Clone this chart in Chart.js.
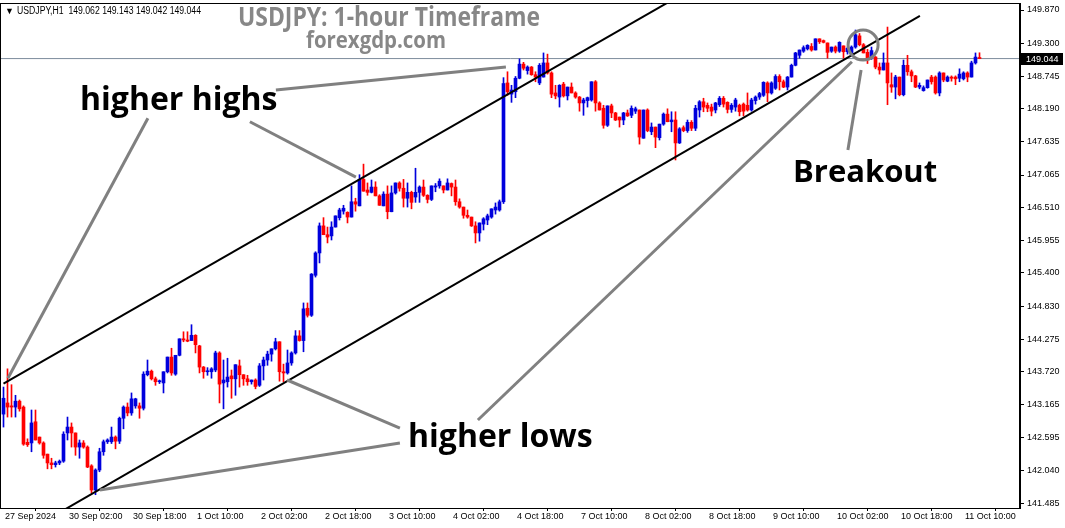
<!DOCTYPE html>
<html>
<head>
<meta charset="utf-8">
<title>USDJPY H1</title>
<script src="https://cdn.jsdelivr.net/npm/chart.js@4.4.0/dist/chart.umd.min.js"></script>
<style>
  html, body { margin: 0; padding: 0; background: #fff; overflow: hidden; }
  canvas { display: block; }
</style>
</head>
<body>
<canvas id="chart" width="1065" height="528"></canvas>
<script>
// ===================== DATA ===================== //
// hourly candles, 27 Sep 2024 10:00 -> 11 Oct 2024 14:00
const opens = [
  143.00,143.19,143.14,143.12,143.22,143.12,142.52,142.51,142.87,142.61,
  142.51,142.32,142.17,142.14,142.17,142.20,142.68,142.78,142.68,142.44,
  142.51,142.44,142.12,141.71,142.05,142.36,142.53,142.53,142.61,142.54,
  142.93,143.12,143.02,143.14,143.14,143.10,143.67,143.73,143.60,143.55,
  143.53,143.72,143.97,143.68,144.00,144.28,144.26,144.25,144.34,144.16,
  143.80,143.72,143.72,143.75,144.04,143.53,143.55,143.65,143.60,143.82,
  143.67,143.60,143.55,143.58,143.49,143.82,143.92,144.02,144.11,144.23,
  143.72,143.70,143.87,144.04,144.33,144.25,144.80,144.68,145.36,145.74,
  146.20,146.05,146.03,146.18,146.34,146.45,146.43,146.35,146.61,146.54,
  146.99,146.81,146.77,146.86,146.71,146.54,146.74,146.44,146.76,146.93,
  146.84,146.67,146.77,146.69,146.77,146.86,146.72,146.65,146.86,146.88,
  146.88,146.81,146.92,146.86,146.61,146.52,146.38,146.35,146.20,146.08,
  146.23,146.30,146.35,146.47,146.47,146.61,148.63,148.44,148.48,148.71,
  148.95,148.84,148.90,148.77,148.63,148.73,148.97,148.80,148.46,148.39,
  148.61,148.41,148.56,148.46,148.39,148.29,148.33,148.34,148.65,148.29,
  148.20,147.91,148.24,148.12,148.05,148.00,148.12,148.08,148.15,148.17,
  147.69,148.17,147.80,147.88,147.70,147.93,148.10,147.97,148.00,147.61,
  147.87,147.82,147.96,147.86,148.17,148.31,148.25,148.22,148.17,148.26,
  148.37,148.30,148.18,148.22,148.25,148.27,148.25,148.17,148.33,148.39,
  148.42,148.63,148.46,148.54,148.74,148.65,148.56,148.73,148.93,149.10,
  149.17,149.21,149.25,149.19,149.38,149.35,149.31,149.17,149.24,149.17,
  149.26,149.16,149.12,149.24,149.43,149.28,149.15,149.06,149.07,148.90,
  148.85,148.97,148.60,148.56,148.73,148.43,148.93,148.82,148.75,148.56,
  148.50,148.55,148.73,148.73,148.46,148.80,148.66,148.73,148.73,148.71,
  148.70,148.80,148.73,148.97,149.062
];
const highs = [
  143.46,143.77,143.50,143.32,143.24,143.14,142.58,143.07,143.07,142.61,
  142.53,142.32,142.25,142.20,142.22,142.70,142.95,142.85,142.68,142.56,
  142.55,142.46,142.14,142.07,142.42,142.56,142.58,142.78,142.63,142.95,
  143.14,143.19,143.36,143.27,143.19,143.72,143.92,143.75,143.63,143.58,
  143.72,143.97,144.12,144.00,144.28,144.40,144.40,144.52,144.35,144.17,
  143.81,143.79,143.79,144.07,144.06,143.92,143.95,143.75,143.84,143.92,
  143.67,143.66,143.58,143.60,143.86,143.97,144.07,144.11,144.29,144.23,
  143.85,144.09,144.06,144.42,144.42,144.89,144.89,145.39,145.76,146.25,
  146.34,146.18,146.27,146.37,146.50,146.55,146.44,146.88,146.67,147.07,
  147.25,146.93,146.98,146.95,146.73,146.78,146.88,146.88,146.93,146.95,
  146.99,146.93,146.79,147.18,146.88,146.98,146.73,146.88,146.92,147.00,
  146.88,147.00,146.93,146.98,146.66,146.52,146.47,146.35,146.27,146.25,
  146.34,146.40,146.49,146.59,146.64,148.72,148.82,148.59,148.74,149.04,
  148.98,148.92,148.91,148.82,148.96,149.14,149.12,148.82,148.59,148.60,
  148.64,148.56,148.63,148.48,148.40,148.37,148.39,148.65,148.67,148.31,
  148.25,148.24,148.27,148.13,148.05,148.13,148.17,148.24,148.22,148.17,
  148.17,148.19,147.95,147.88,147.93,148.12,148.19,148.14,148.14,147.87,
  147.90,148.00,147.99,148.25,148.33,148.37,148.29,148.27,148.30,148.40,
  148.40,148.31,148.28,148.37,148.27,148.29,148.46,148.37,148.41,148.47,
  148.65,148.65,148.65,148.77,148.77,148.68,148.74,148.95,149.15,149.19,
  149.26,149.28,149.30,149.38,149.38,149.36,149.31,149.24,149.26,149.33,
  149.26,149.24,149.26,149.53,149.47,149.30,149.20,149.24,149.08,148.97,
  149.14,149.58,148.80,148.76,148.73,149.02,149.10,148.85,148.76,148.63,
  148.58,148.68,148.76,148.75,148.82,148.80,148.75,148.75,148.75,148.87,
  148.82,148.82,149.00,149.14,149.143
];
const lows = [
  142.78,142.95,142.95,142.95,143.05,142.47,142.45,142.36,142.56,142.49,
  142.25,142.07,142.07,142.10,142.14,142.18,142.56,142.44,142.30,142.25,
  142.42,142.09,141.66,141.63,142.02,142.30,142.50,142.50,142.41,142.50,
  142.75,142.97,142.98,143.10,142.93,143.07,143.65,143.58,143.49,143.52,
  143.36,143.70,143.66,143.66,143.99,144.23,144.23,144.25,144.04,143.70,
  143.61,143.66,143.61,143.72,143.19,143.09,143.46,143.27,143.32,143.46,
  143.49,143.49,143.51,143.43,143.47,143.58,143.83,143.90,144.09,143.56,
  143.55,143.68,143.83,144.02,144.24,144.06,144.65,144.66,145.33,145.57,
  146.05,145.91,145.96,146.18,146.30,146.40,146.25,146.35,146.45,146.54,
  146.79,146.72,146.76,146.71,146.55,146.54,146.32,146.44,146.74,146.79,
  146.52,146.52,146.49,146.60,146.60,146.70,146.59,146.63,146.78,146.84,
  146.76,146.81,146.71,146.55,146.50,146.33,146.33,146.19,145.91,145.94,
  146.13,146.22,146.33,146.40,146.45,146.58,148.42,148.30,148.38,148.70,
  148.85,148.78,148.76,148.65,148.60,148.73,148.78,148.38,148.36,148.22,
  148.39,148.34,148.46,148.37,148.15,148.08,148.22,148.32,148.15,148.17,
  147.86,147.89,148.04,147.99,147.88,147.92,148.06,148.04,148.11,147.59,
  147.69,147.80,147.75,147.53,147.66,147.91,147.97,147.80,147.32,147.60,
  147.80,147.79,147.82,147.82,148.05,148.14,148.14,148.07,148.12,148.23,
  148.22,148.12,148.13,148.15,148.07,148.07,148.15,148.15,148.27,148.35,
  148.40,148.31,148.44,148.52,148.51,148.55,148.51,148.73,148.92,149.05,
  149.15,149.19,149.17,149.19,149.30,149.31,149.05,149.15,149.14,149.15,
  149.05,149.12,149.08,149.22,149.26,149.14,148.96,149.03,148.87,148.78,
  148.85,148.26,148.47,148.36,148.41,148.41,148.76,148.65,148.55,148.53,
  148.49,148.54,148.61,148.44,148.41,148.65,148.65,148.66,148.60,148.65,
  148.68,148.65,148.73,148.95,149.042
];
const closes = [
  143.27,143.12,143.12,143.22,143.09,142.49,142.48,142.85,142.56,142.51,
  142.30,142.17,142.14,142.17,142.20,142.66,142.78,142.68,142.44,142.51,
  142.44,142.10,141.71,142.05,142.36,142.53,142.56,142.61,142.54,142.93,
  143.12,143.02,143.26,143.26,143.10,143.68,143.73,143.60,143.55,143.56,
  143.72,143.97,143.70,144.00,144.28,144.26,144.24,144.34,144.18,143.80,
  143.72,143.73,143.77,144.04,143.51,143.58,143.63,143.60,143.84,143.67,
  143.60,143.55,143.58,143.47,143.82,143.92,144.02,144.11,144.23,143.72,
  143.70,143.87,144.04,144.33,144.25,144.79,144.68,145.38,145.74,146.20,
  146.05,146.01,146.18,146.37,146.47,146.50,146.35,146.61,146.57,146.99,
  146.79,146.77,146.86,146.71,146.55,146.74,146.44,146.76,146.93,146.84,
  146.67,146.77,146.60,146.77,146.86,146.72,146.65,146.88,146.88,146.96,
  146.81,146.93,146.86,146.61,146.52,146.38,146.35,146.20,146.08,146.25,
  146.32,146.37,146.49,146.52,146.61,148.62,148.48,148.51,148.71,148.95,
  148.88,148.90,148.77,148.73,148.93,148.97,148.80,148.44,148.41,148.59,
  148.41,148.56,148.46,148.39,148.29,148.34,148.38,148.65,148.29,148.17,
  147.91,148.24,148.12,148.00,148.00,148.12,148.07,148.20,148.19,147.71,
  148.17,147.82,147.88,147.71,147.93,148.10,147.97,148.00,147.61,147.85,
  147.82,147.96,147.86,148.20,148.31,148.22,148.20,148.15,148.29,148.37,
  148.27,148.18,148.25,148.34,148.14,148.15,148.17,148.34,148.39,148.45,
  148.64,148.46,148.63,148.74,148.65,148.56,148.73,148.93,149.14,149.19,
  149.23,149.27,149.19,149.38,149.33,149.32,149.15,149.24,149.17,149.32,
  149.16,149.22,149.24,149.45,149.28,149.14,149.05,149.18,148.90,148.85,
  148.97,148.63,148.56,148.73,148.43,148.93,148.82,148.75,148.56,148.59,
  148.55,148.68,148.65,148.46,148.80,148.68,148.73,148.71,148.70,148.78,
  148.80,148.73,148.97,149.07,149.044
];

// one time label every 16 bars
const timeLabels = [
  "27 Sep 2024", "30 Sep 02:00", "30 Sep 18:00", "1 Oct 10:00", "2 Oct 02:00",
  "2 Oct 18:00", "3 Oct 10:00", "4 Oct 02:00", "4 Oct 18:00", "7 Oct 10:00",
  "8 Oct 02:00", "8 Oct 18:00", "9 Oct 10:00", "10 Oct 02:00", "10 Oct 18:00",
  "11 Oct 10:00"
];
const priceTicks = [
  149.870, 149.300, 148.745, 148.190, 147.635, 147.065, 146.510, 145.955,
  145.400, 144.830, 144.275, 143.720, 143.165, 142.595, 142.040, 141.485
];
const lastPrice = 149.044;

// ===================== DRAWING OBJECTS (bar index, price) ===================== //
const channelUpper = [{ x: 0, y: 143.52 }, { x: 170, y: 150.15 }];
const channelLower = [{ x: 14.6, y: 141.35 }, { x: 229.1, y: 149.77 }];

const pointerLines = [
  [36.1, 148.03, 1.1, 143.61],
  [61.6, 147.97, 88.1, 147.03],
  [68.1, 148.51, 125.6, 148.90],
  [99.1, 142.76, 70.9, 143.58],
  [99.1, 142.51, 24.1, 141.71],
  [118.6, 142.90, 212.1, 148.99],
  [211.1, 147.49, 214.4, 148.85]
];
const breakoutCircle = { x: 214.9, y: 149.275, r: 15 };

// ===================== CANDLE DATASETS ===================== //
const BULL = "#0000dd";
const BEAR = "#ff0000";

const candleColors = closes.map((c, i) => (c >= opens[i] ? BULL : BEAR));
const wickData = highs.map((h, i) => ({ x: i, y: [lows[i], h] }));
const bodyData = opens.map((o, i) => ({ x: i, y: [o, closes[i]] }));

Chart.defaults.font.family = "'Liberation Sans', Arial, sans-serif";
Chart.defaults.font.size = 9;
Chart.defaults.color = "#000";

// ===================== OVERLAY PLUGIN ===================== //
const overlay = {
  id: "overlay",
  afterDatasetsDraw(chart) {
    const { ctx, chartArea: a, scales: { x, y } } = chart;
    ctx.save();
    ctx.beginPath();
    ctx.rect(a.left, a.top, a.right - a.left, a.bottom - a.top);
    ctx.clip();

    // grey pointer lines
    ctx.strokeStyle = "#808080";
    ctx.lineWidth = 3;
    pointerLines.forEach(p => {
      ctx.beginPath();
      ctx.moveTo(x.getPixelForValue(p[0]), y.getPixelForValue(p[1]));
      ctx.lineTo(x.getPixelForValue(p[2]), y.getPixelForValue(p[3]));
      ctx.stroke();
    });

    // circle round the breakout
    ctx.beginPath();
    ctx.arc(x.getPixelForValue(breakoutCircle.x), y.getPixelForValue(breakoutCircle.y),
      breakoutCircle.r, 0, Math.PI * 2);
    ctx.stroke();

    // big labels
    ctx.fillStyle = "#000";
    ctx.textBaseline = "alphabetic";
    ctx.textAlign = "left";
    ctx.font = "bold 32px 'Open Sans'";
    ctx.fillText("higher highs", 80, 110, 198);
    ctx.fillText("higher lows", 408, 447, 192);
    ctx.font = "bold 31px 'Open Sans'";
    ctx.fillText("Breakout", 793, 182, 145);

    // title
    ctx.fillStyle = "#878787";
    ctx.textAlign = "center";
    ctx.font = "bold 26px 'Open Sans'";
    ctx.fillText("USDJPY: 1-hour Timeframe", 389, 26, 302);
    ctx.font = "bold 23px 'Open Sans'";
    ctx.fillText("forexgdp.com", 376, 48, 140);

    // header
    ctx.fillStyle = "#000";
    ctx.textAlign = "left";
    ctx.font = "9px 'Liberation Sans'";
    ctx.fillText("\u25BC", 5, 14);
    ctx.font = "10px 'Liberation Sans'";
    ctx.fillText("USDJPY,H1  149.062 149.143 149.042 149.044", 17, 14, 184);
    ctx.restore();
  },
  afterDraw(chart) {
    const { ctx, chartArea: a, scales: { x, y } } = chart;
    ctx.save();
    // frame
    ctx.strokeStyle = "#000";
    ctx.lineWidth = 1;
    ctx.strokeRect(a.left + 0.5, a.top + 0.5, a.right - a.left - 1, a.bottom - a.top);

    // time labels, left aligned on their tick
    ctx.fillStyle = "#000";
    ctx.font = "9px 'Liberation Sans'";
    ctx.textBaseline = "middle";
    ctx.textAlign = "left";
    timeLabels.forEach((t, k) => {
      ctx.fillText(t, Math.round(x.getPixelForValue(k * 16)) + 1, a.bottom + 9);
    });

    // last price box
    const py = Math.round(y.getPixelForValue(lastPrice));
    ctx.fillStyle = "#000";
    ctx.fillRect(a.right + 1, py - 6, 42, 12);
    ctx.fillStyle = "#fff";
    ctx.fillText(lastPrice.toFixed(3), a.right + 6, py + 0.5);
    ctx.restore();
  }
};

// ===================== CHART ===================== //
const ctx = document.getElementById("chart").getContext("2d");

const chart = new Chart(ctx, {
  type: "bar",
  data: {
    datasets: [
      {
        type: "line",
        data: channelUpper,
        borderColor: "#000",
        borderWidth: 2,
        pointRadius: 0,
        order: 0
      },
      {
        type: "line",
        data: channelLower,
        borderColor: "#000",
        borderWidth: 2,
        pointRadius: 0,
        order: 0
      },
      {
        label: "body",
        data: bodyData,
        backgroundColor: candleColors,
        barThickness: 3,
        minBarLength: 1,
        grouped: false,
        borderWidth: 0,
        order: 1
      },
      {
        label: "wick",
        data: wickData,
        backgroundColor: candleColors,
        barThickness: 1,
        grouped: false,
        borderWidth: 0,
        order: 2
      },
      {
        type: "line",
        data: [{ x: -1, y: lastPrice }, { x: 260, y: lastPrice }],
        borderColor: "#7d8c9c",
        borderWidth: 1,
        pointRadius: 0,
        order: 3
      }
    ]
  },
  options: {
    responsive: false,
    animation: false,
    devicePixelRatio: 1,
    layout: { padding: { top: 3, left: 0, right: 0, bottom: 0 } },
    plugins: { legend: { display: false }, tooltip: { enabled: false } },
    scales: {
      x: {
        type: "linear",
        offset: false,
        min: -0.875,
        max: 254.125,
        grid: { drawOnChartArea: false, drawTicks: true, tickLength: 3, color: "#000" },
        border: { display: true, color: "#000" },
        ticks: { display: false },
        afterBuildTicks: scale => {
          scale.ticks = timeLabels.map((t, k) => ({ value: k * 16 }));
        },
        afterFit: scale => {
          scale.height = 20;
          scale.paddingLeft = 0;
          scale.paddingRight = 0;
        }
      },
      y: {
        position: "right",
        min: 141.404,
        max: 149.989,
        grid: { drawOnChartArea: false, drawTicks: true, tickLength: 4, color: "#000" },
        border: { display: true, color: "#000" },
        ticks: {
          padding: 3,
          autoSkip: false,
          callback: v => v.toFixed(3)
        },
        afterBuildTicks: scale => {
          scale.ticks = priceTicks.map(v => ({ value: v }));
        },
        afterFit: scale => {
          scale.width = 45;
          scale.paddingTop = 0;
          scale.paddingBottom = 0;
        }
      }
    }
  },
  plugins: [overlay]
});
</script>
</body>
</html>
